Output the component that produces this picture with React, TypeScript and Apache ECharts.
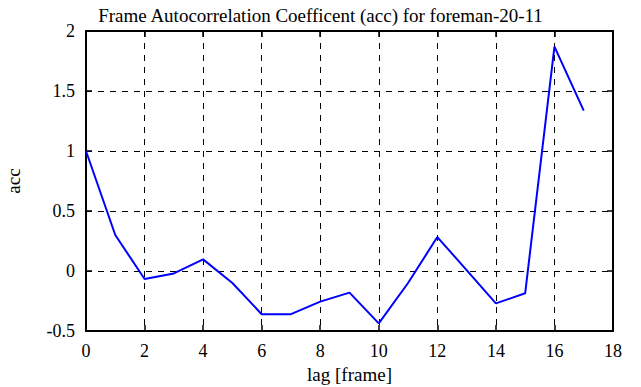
import React, { useEffect, useRef } from "react";
import * as echarts from "echarts";

const lags = [0, 1, 2, 3, 4, 5, 6, 7, 8, 9, 10, 11, 12, 13, 14, 15, 16, 17];
const acc = [1.0, 0.3, -0.067, -0.02, 0.097, -0.1, -0.36, -0.36, -0.255, -0.18, -0.436, -0.1, 0.283, 0.008, -0.27, -0.186, 1.87, 1.336];
const titleText = "Frame Autocorrelation Coefficent (acc) for foreman-20-11";
const xName = "lag [frame]";
const yName = "acc";

export default function App() {
  const ref = useRef<HTMLDivElement>(null);
  useEffect(() => {
    const chart = echarts.init(ref.current!, null, { renderer: "svg" });
    const font = "'Liberation Serif', 'Times New Roman', serif";
    const axisLine = { show: true, onZero: false, lineStyle: { color: "#000", width: 2 } };
    const axisTick = { show: true, inside: true, length: 6, lineStyle: { color: "#000", width: 1.5 } };
    const split = { show: true, lineStyle: { color: "#000", type: [6, 6] as any, width: 1 } };
    chart.setOption({
      animation: false,
      backgroundColor: "#fff",
      title: {
        text: titleText,
        left: "center",
        top: 1,
        textStyle: { fontFamily: font, fontSize: 19, fontWeight: "normal", color: "#000" },
      },
      grid: { left: 86, top: 31, right: 28, bottom: 56, containLabel: false, outerBoundsMode: "none" },
      xAxis: [
        {
          type: "value",
          min: 0,
          max: 18,
          interval: 2,
          name: xName,
          nameLocation: "middle",
          nameGap: 33,
          nameTextStyle: { fontFamily: font, fontSize: 19, color: "#000" },
          axisLine,
          axisTick,
          splitLine: split,
          axisLabel: { fontFamily: font, fontSize: 18, color: "#000", margin: 11 },
        },
        {
          type: "value",
          position: "top",
          min: 0,
          max: 18,
          interval: 2,
          axisLine,
          axisTick,
          splitLine: { show: false },
          axisLabel: { show: false },
        },
      ],
      yAxis: [
        {
          type: "value",
          min: -0.5,
          max: 2,
          interval: 0.5,
          name: yName,
          nameLocation: "middle",
          nameGap: 63,
          nameTextStyle: { fontFamily: font, fontSize: 19, color: "#000" },
          axisLine,
          axisTick,
          splitLine: split,
          axisLabel: { fontFamily: font, fontSize: 18, color: "#000", margin: 11 },
        },
        {
          type: "value",
          position: "right",
          min: -0.5,
          max: 2,
          interval: 0.5,
          axisLine,
          axisTick,
          splitLine: { show: false },
          axisLabel: { show: false },
        },
      ],
      series: [
        {
          type: "line",
          data: lags.map((x, i) => [x, acc[i]]),
          showSymbol: false,
          lineStyle: { color: "#0000ff", width: 2 },
          xAxisIndex: 0,
          yAxisIndex: 0,
        },
      ],
    });
    return () => chart.dispose();
  }, []);
  return <div ref={ref} style={{ width: 641, height: 387, position: "absolute", left: 0, top: 0 }} />;
}
